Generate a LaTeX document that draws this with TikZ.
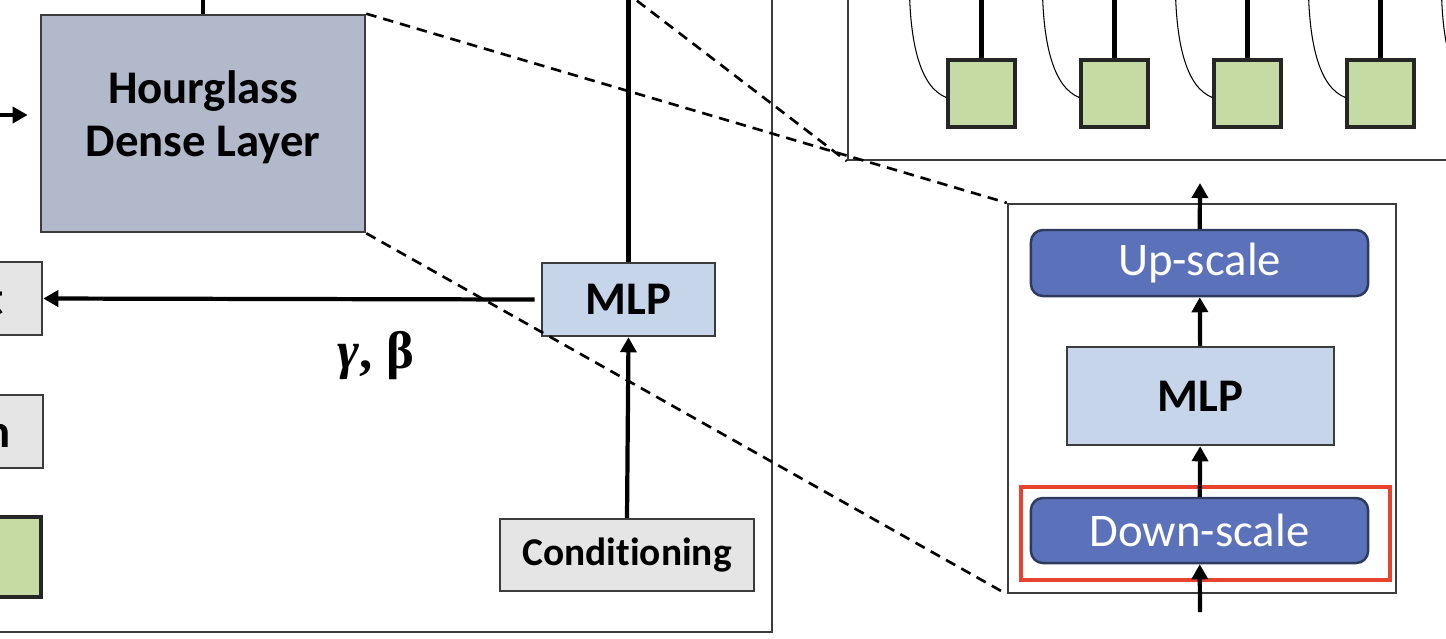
\documentclass[tikz,border=0pt]{standalone}
\usepackage{fontspec}
\setmainfont{Carlito}[Ligatures=NoCommon]
\newfontfamily\greekfont{Liberation Serif}
\usetikzlibrary{arrows.meta, positioning, calc}
\definecolor{hgfill}{HTML}{B1B9CA}
\definecolor{mlpfill}{HTML}{C6D5EA}
\definecolor{boxgrey}{HTML}{E5E5E5}
\definecolor{sqgreen}{HTML}{C6DBA4}
\definecolor{scalefill}{HTML}{5B71B9}
\definecolor{scaleedge}{HTML}{2F3B5E}
\definecolor{boxedge}{HTML}{3C3C3C}
\definecolor{hlred}{HTML}{E8432E}
\tikzset{
  flowarr/.style={-{Triangle[length=1.5mm, width=1.6mm]}, line width=1.2pt},
  plainline/.style={line width=1.2pt},
  thincurve/.style={line width=0.3pt},
  zoomline/.style={dash pattern=on 1.05mm off 0.7mm, line width=0.75pt},
  framebox/.style={draw=boxedge, line width=0.6pt, inner sep=0pt},
  greybox/.style={draw=boxedge, fill=boxgrey, line width=0.7pt, inner sep=0pt,
                  font=\bfseries\fontsize{13.3}{15.3}\selectfont},
  hgbox/.style={greybox, fill=hgfill, align=center},
  mlpbox/.style={greybox, fill=mlpfill},
  greensq/.style={draw=black!85, fill=sqgreen, line width=0.9pt, inner sep=0pt},
  scalebox/.style={draw=scaleedge, fill=scalefill, rounded corners=1.2mm, line width=0.7pt,
                   text=white, inner sep=0pt, font=\fontsize{13.3}{15.3}\selectfont},
}
\begin{document}
\begin{tikzpicture}[x=0.01cm, y=-0.01cm]
  \useasboundingbox (0,0) rectangle (1446,638);

  % left block
  \node[framebox, minimum width=8.32cm, minimum height=6.92cm] (blk) at (356,286) {};
  \node[hgbox, minimum width=3.24cm, minimum height=2.17cm, text depth=0.2cm] (hg) at (203,123.5) {Hourglass\\Dense Layer};
  \node[greybox, minimum width=1.66cm, minimum height=0.73cm] (shift) at (-41,298.5) {Shift};
  \node[greybox, minimum width=2.50cm, minimum height=0.73cm] (attn) at (-82,431.5) {Attention};
  \node[greensq, minimum width=0.82cm, minimum height=0.80cm] (gsq) at (0,557) {};
  \node[mlpbox, minimum width=1.73cm, minimum height=0.73cm] (lmlp) at (628.5,299.5) {MLP};
  \node[greybox, minimum width=2.54cm, minimum height=0.72cm,
        font=\bfseries\fontsize{11.2}{13}\selectfont] (cond) at (627,555) {Conditioning};
  \node[font=\greekfont\bfseries\fontsize{15}{17}\selectfont] (gb) at (376,356) {\textit{γ}, β};
  \coordinate (hgin) at (-10,115);

  \draw[flowarr, shorten >=0.12cm] (hgin) -- (hgin -| hg.west);
  \draw[plainline] (hg.north) -- (hg.north |- blk.north);
  \draw[plainline] (lmlp.north) -- (lmlp.north |- blk.north);
  \draw[flowarr] (cond.north) -- (lmlp.south);
  \draw[flowarr, shorten <=0.06cm] (lmlp.west) -- (shift.east);

  % top-right block
  \node[framebox, minimum width=6.52cm, minimum height=2.0cm] (tb) at (1174,60) {};
  \foreach \i in {1,...,5} {
    \node[greensq, minimum size=0.67cm] (s\i) at ({981.5+133*(\i-1)},93.5) {};
    \draw[plainline] (s\i.north) -- (s\i.north |- tb.north);
    \draw[thincurve] ([yshift=-0.04cm]s\i.west) .. controls +(-26,-10) and +(1,55) .. ++(-37,-108);
  }

  % zoomed hourglass layer
  \node[framebox, minimum width=3.88cm, minimum height=3.89cm] (zb) at (1202,398.5) {};
  \node[scalebox, minimum width=3.37cm, minimum height=0.66cm] (up) at (1199.5,263) {Up-scale};
  \node[mlpbox, minimum width=2.67cm, minimum height=0.98cm] (rmlp) at (1200.5,396) {MLP};
  \node[scalebox, minimum width=3.37cm, minimum height=0.65cm] (down) at (1199.5,530.5) {Down-scale};
  \node[draw=hlred, line width=1pt, minimum width=3.69cm, minimum height=0.93cm] (hl) at (1205.5,533.5) {};
  \coordinate (zin) at (1200,612);
  \coordinate (zout) at (1200,183);

  \foreach \a/\b in {zin/down, down/rmlp, rmlp/up, up/zout} {
    \draw[flowarr] (\a) -- (\b);
  }

  % zoom lines
  \coordinate (zl) at (623,-10);
  \draw[zoomline] (zl) -- (tb.south west);
  \draw[zoomline] (hg.north east) -- (zb.north west);
  \draw[zoomline] (hg.south east) -- (zb.south west);
\end{tikzpicture}
\end{document}
